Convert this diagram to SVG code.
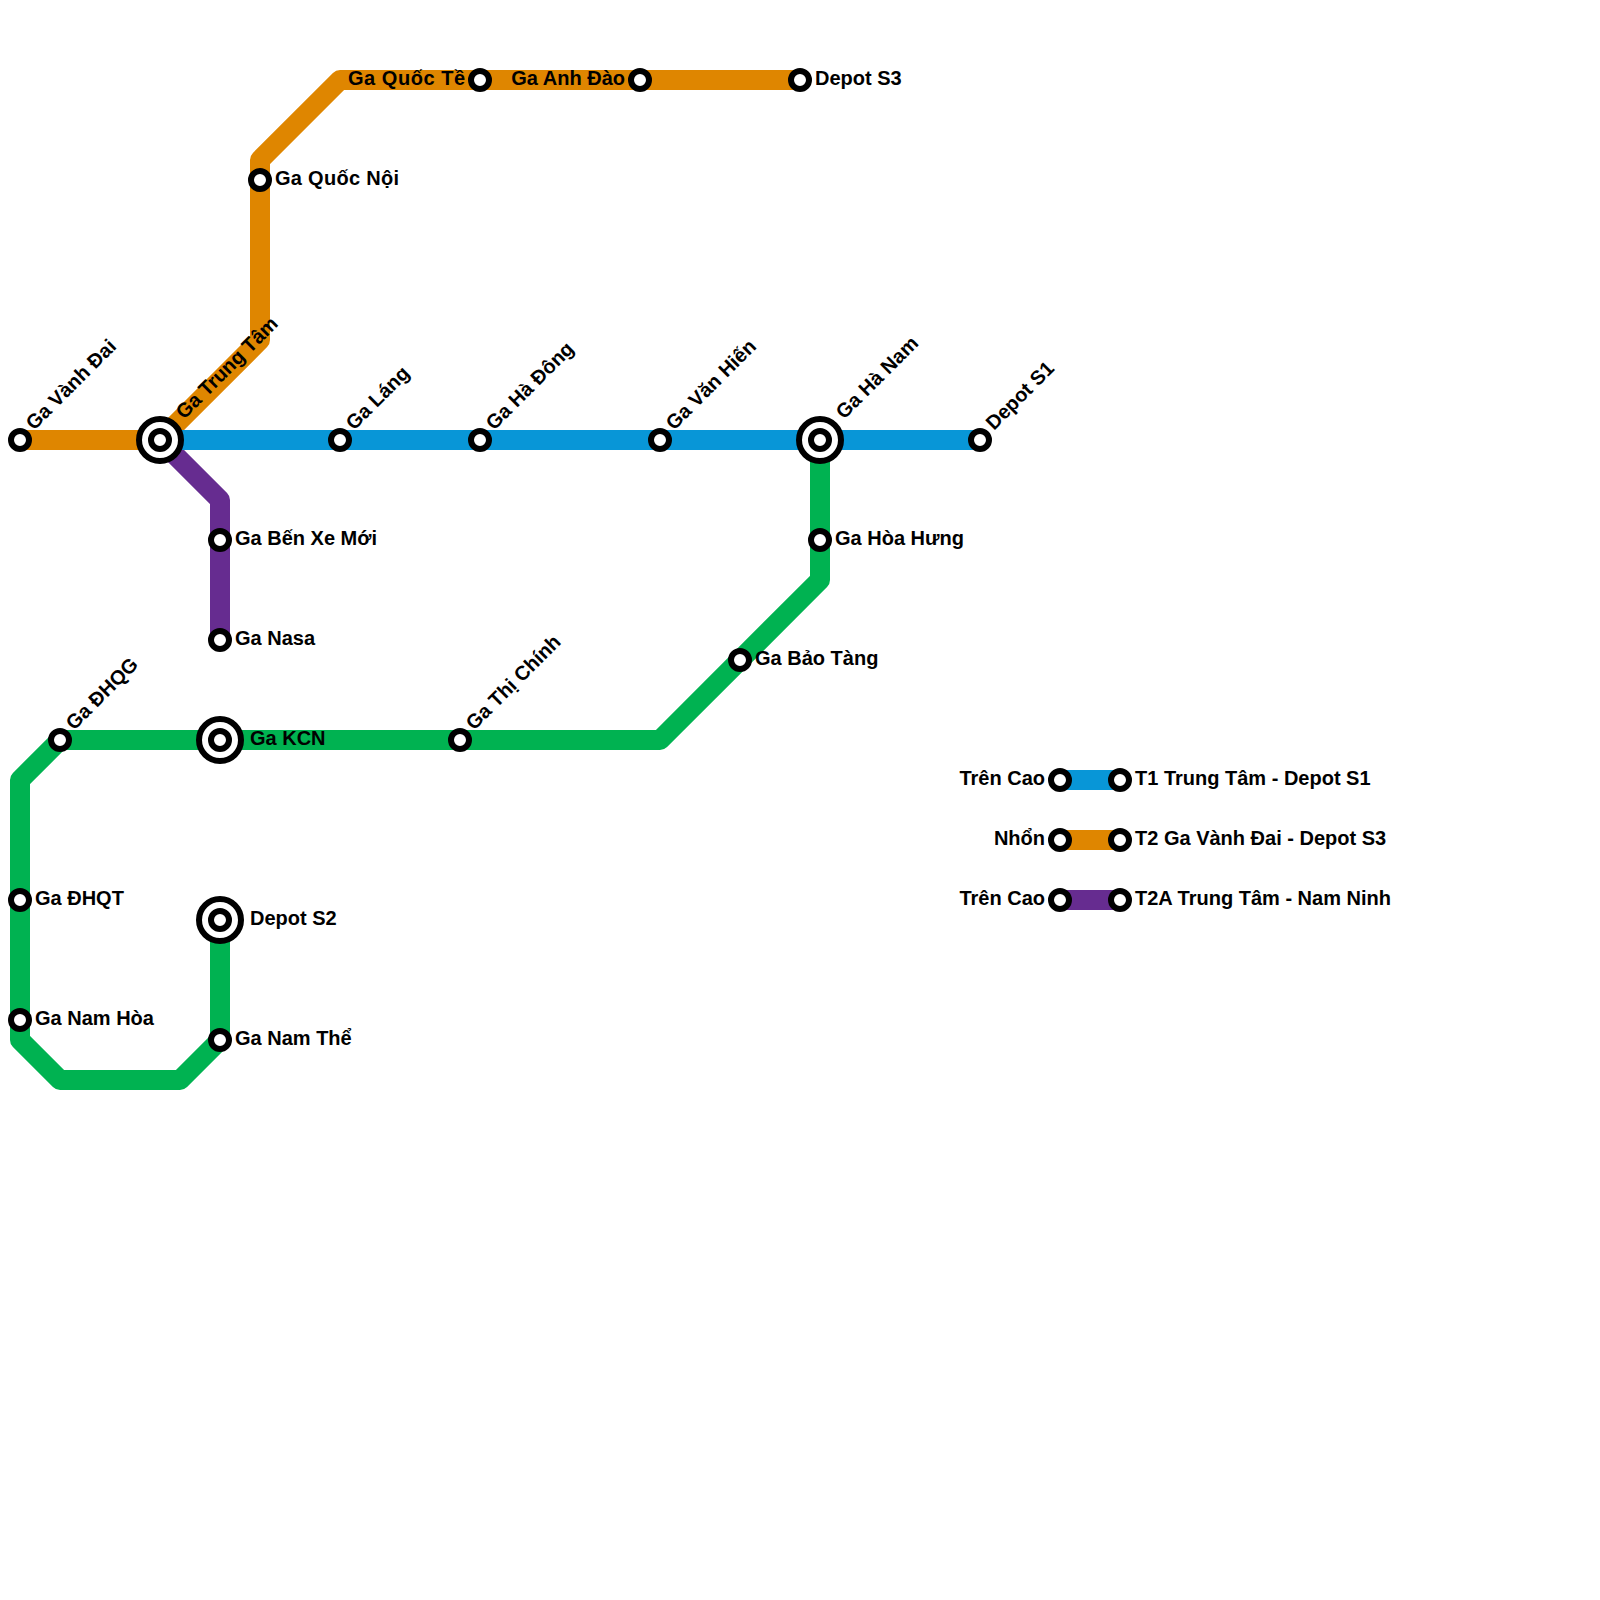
<svg xmlns="http://www.w3.org/2000/svg" width="1600" height="1600" viewBox="0 0 1600 1600">
<style>
text{font-family:"Liberation Sans",Arial,sans-serif;font-weight:700;font-size:20px;fill:#000}
.l{fill:none;stroke-width:20;stroke-linejoin:round;stroke-linecap:butt}
.o{stroke:#df8600}.b{stroke:#0896d7}.p{stroke:#662c90}.g{stroke:#00b251}
.s{fill:#fff;stroke:#000;stroke-width:6}
.r{fill:#fff;stroke:#000;stroke-width:6}
.e{text-anchor:end}
</style>
<rect width="1600" height="1600" fill="#fff"/>
<g id="connectors">
<path class="l o" d="M20 440H160L260 340V160L340 80H800"/>
<path class="l p" d="M160 440L220 500V640"/>
<path class="l b" d="M160 440H980"/>
<path class="l g" d="M820 440V580L660 740H60L20 780V1040L60 1080H180L220 1040V920"/>
<path class="l b" d="M1060 780H1120"/>
<path class="l o" d="M1060 840H1120"/>
<path class="l p" d="M1060 900H1120"/>
</g>
<g id="st-vanh-dai"><circle class="s" cx="20" cy="440" r="9"/><text transform="translate(34 431) rotate(-45)">Ga Vành Đai</text></g>
<g id="st-trung-tam"><circle class="r" cx="160" cy="440" r="21"/><circle class="s" cx="160" cy="440" r="9"/><text transform="translate(184 420) rotate(-45)">Ga Trung Tâm</text></g>
<g id="st-lang"><circle class="s" cx="340" cy="440" r="9"/><text transform="translate(354 431) rotate(-45)">Ga Láng</text></g>
<g id="st-ha-dong"><circle class="s" cx="480" cy="440" r="9"/><text transform="translate(494 431) rotate(-45)">Ga Hà Đông</text></g>
<g id="st-van-hien"><circle class="s" cx="660" cy="440" r="9"/><text transform="translate(674 431) rotate(-45)">Ga Văn Hiến</text></g>
<g id="st-ha-nam"><circle class="r" cx="820" cy="440" r="21"/><circle class="s" cx="820" cy="440" r="9"/><text transform="translate(844 420) rotate(-45)">Ga Hà Nam</text></g>
<g id="st-depot-s1"><circle class="s" cx="980" cy="440" r="9"/><text transform="translate(994 431) rotate(-45)">Depot S1</text></g>
<g id="st-quoc-noi"><circle class="s" cx="260" cy="180" r="9"/><text x="275" y="185" textLength="124">Ga Quốc Nội</text></g>
<g id="st-quoc-te"><circle class="s" cx="480" cy="80" r="9"/><text class="e" x="465" y="85" textLength="117">Ga Quốc Tề</text></g>
<g id="st-anh-dao"><circle class="s" cx="640" cy="80" r="9"/><text class="e" x="625" y="85">Ga Anh Đào</text></g>
<g id="st-depot-s3"><circle class="s" cx="800" cy="80" r="9"/><text x="815" y="85">Depot S3</text></g>
<g id="st-ben-xe"><circle class="s" cx="220" cy="540" r="9"/><text x="235" y="545">Ga Bến Xe Mới</text></g>
<g id="st-nasa"><circle class="s" cx="220" cy="640" r="9"/><text x="235" y="645">Ga Nasa</text></g>
<g id="st-hoa-hung"><circle class="s" cx="820" cy="540" r="9"/><text x="835" y="545">Ga Hòa Hưng</text></g>
<g id="st-bao-tang"><circle class="s" cx="740" cy="660" r="9"/><text x="755" y="665">Ga Bảo Tàng</text></g>
<g id="st-thi-chinh"><circle class="s" cx="460" cy="740" r="9"/><text transform="translate(474 731) rotate(-45)">Ga Thị Chính</text></g>
<g id="st-kcn"><circle class="r" cx="220" cy="740" r="21"/><circle class="s" cx="220" cy="740" r="9"/><text x="250" y="745">Ga KCN</text></g>
<g id="st-dhqg"><circle class="s" cx="60" cy="740" r="9"/><text transform="translate(74 731) rotate(-45)">Ga ĐHQG</text></g>
<g id="st-dhqt"><circle class="s" cx="20" cy="900" r="9"/><text x="35" y="905">Ga ĐHQT</text></g>
<g id="st-nam-hoa"><circle class="s" cx="20" cy="1020" r="9"/><text x="35" y="1025">Ga Nam Hòa</text></g>
<g id="st-depot-s2"><circle class="r" cx="220" cy="920" r="21"/><circle class="s" cx="220" cy="920" r="9"/><text x="250" y="925">Depot S2</text></g>
<g id="st-nam-the"><circle class="s" cx="220" cy="1040" r="9"/><text x="235" y="1045">Ga Nam Thể</text></g>
<g id="legend-t1"><circle class="s" cx="1060" cy="780" r="9"/><circle class="s" cx="1120" cy="780" r="9"/><text class="e" x="1045" y="785">Trên Cao</text><text x="1135" y="785">T1 Trung Tâm - Depot S1</text></g>
<g id="legend-t2"><circle class="s" cx="1060" cy="840" r="9"/><circle class="s" cx="1120" cy="840" r="9"/><text class="e" x="1045" y="845">Nhổn</text><text x="1135" y="845">T2 Ga Vành Đai - Depot S3</text></g>
<g id="legend-t2a"><circle class="s" cx="1060" cy="900" r="9"/><circle class="s" cx="1120" cy="900" r="9"/><text class="e" x="1045" y="905">Trên Cao</text><text x="1135" y="905">T2A Trung Tâm - Nam Ninh</text></g>
</svg>
